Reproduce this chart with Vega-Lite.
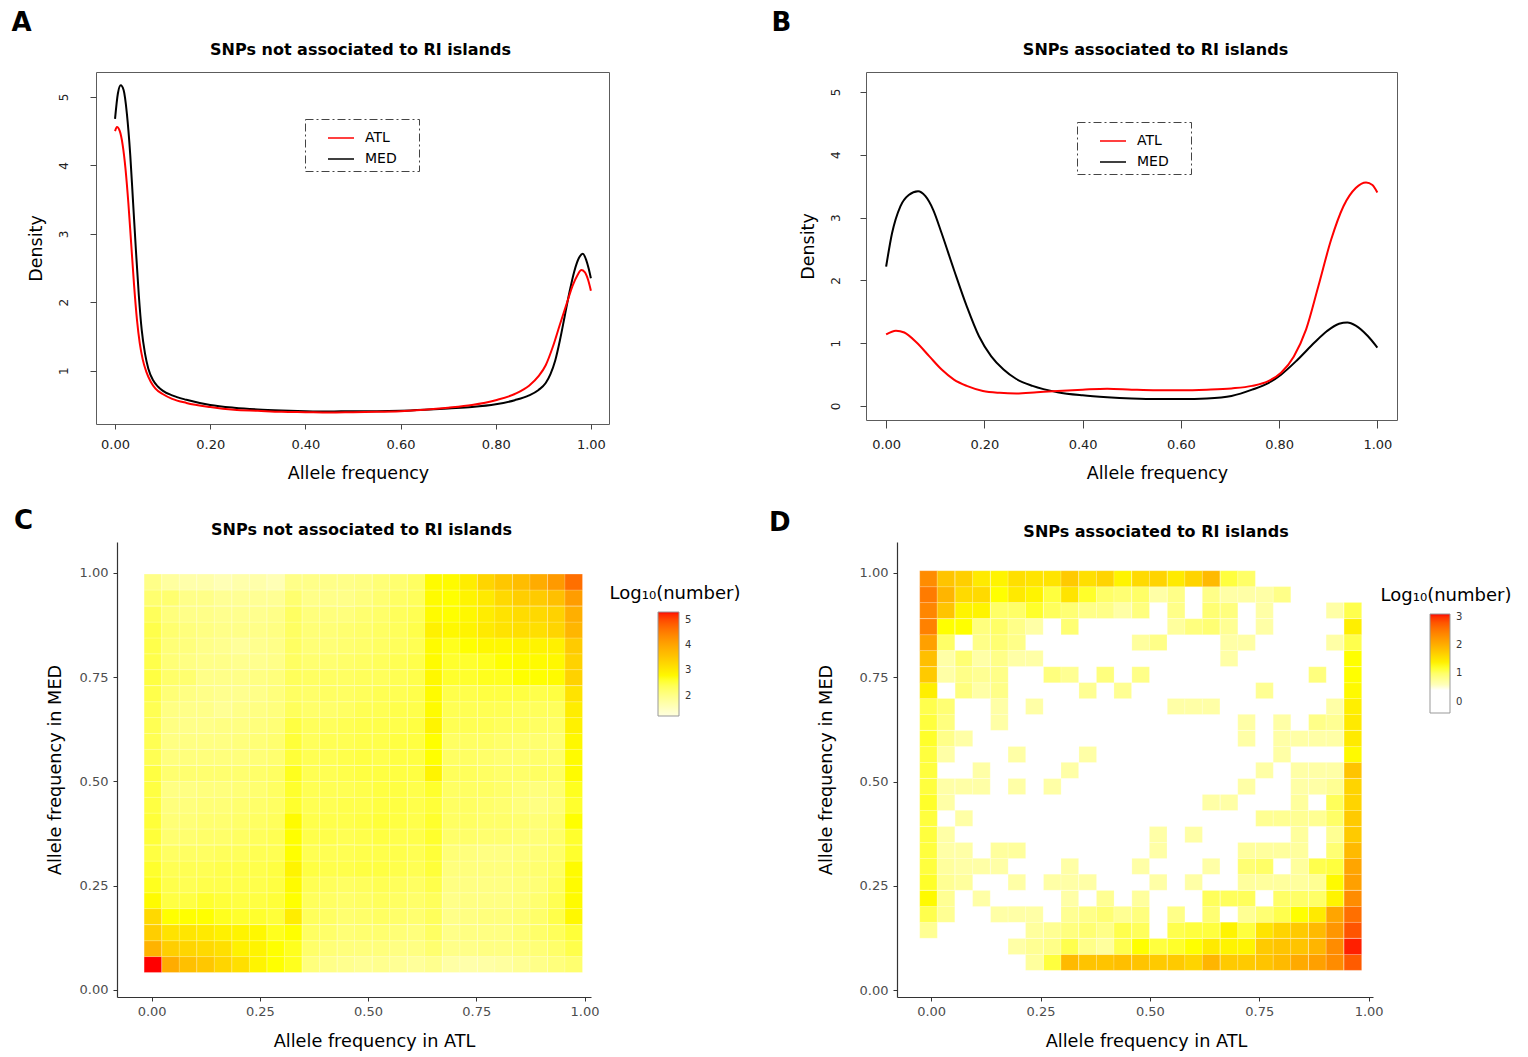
{
"$schema": "https://vega.github.io/schema/vega-lite/v6.json",
"background": "white",
"padding": {"left": 11, "top": 9, "right": 5, "bottom": 2},
"config": {
 "font": "DejaVu Sans",
 "view": {"stroke": null},
 "title": {"color": "#000000", "font": "DejaVu Sans"},
 "axis": {"grid": false, "titleFontWeight": "normal", "titleColor": "#000000", "labelFlush": false},
 "legend": {"strokeDash": [8, 3, 2, 3]}
},
"resolve": {"scale": {"color": "independent"}, "legend": {"color": "independent"}},
"spacing": 26,
"datasets": {
 "densA": [
  {"pop":"MED","x":0.000,"y":4.68},{"pop":"MED","x":0.006,"y":5.05},{"pop":"MED","x":0.012,"y":5.17},{"pop":"MED","x":0.018,"y":5.10},{"pop":"MED","x":0.025,"y":4.75},{"pop":"MED","x":0.032,"y":4.15},{"pop":"MED","x":0.038,"y":3.45},{"pop":"MED","x":0.044,"y":2.75},{"pop":"MED","x":0.050,"y":2.10},{"pop":"MED","x":0.056,"y":1.60},{"pop":"MED","x":0.063,"y":1.25},{"pop":"MED","x":0.070,"y":1.03},{"pop":"MED","x":0.080,"y":0.86},{"pop":"MED","x":0.090,"y":0.77},{"pop":"MED","x":0.100,"y":0.71},{"pop":"MED","x":0.120,"y":0.64},{"pop":"MED","x":0.150,"y":0.575},{"pop":"MED","x":0.200,"y":0.50},{"pop":"MED","x":0.250,"y":0.46},{"pop":"MED","x":0.300,"y":0.435},{"pop":"MED","x":0.350,"y":0.42},{"pop":"MED","x":0.400,"y":0.41},{"pop":"MED","x":0.450,"y":0.405},{"pop":"MED","x":0.500,"y":0.41},{"pop":"MED","x":0.550,"y":0.41},{"pop":"MED","x":0.600,"y":0.415},{"pop":"MED","x":0.650,"y":0.43},{"pop":"MED","x":0.700,"y":0.45},{"pop":"MED","x":0.750,"y":0.47},{"pop":"MED","x":0.800,"y":0.51},{"pop":"MED","x":0.840,"y":0.57},{"pop":"MED","x":0.870,"y":0.64},{"pop":"MED","x":0.890,"y":0.72},{"pop":"MED","x":0.905,"y":0.82},{"pop":"MED","x":0.915,"y":0.95},{"pop":"MED","x":0.925,"y":1.15},{"pop":"MED","x":0.935,"y":1.45},{"pop":"MED","x":0.945,"y":1.80},{"pop":"MED","x":0.955,"y":2.15},{"pop":"MED","x":0.965,"y":2.45},{"pop":"MED","x":0.975,"y":2.65},{"pop":"MED","x":0.983,"y":2.71},{"pop":"MED","x":0.990,"y":2.62},{"pop":"MED","x":0.995,"y":2.50},{"pop":"MED","x":1.000,"y":2.35},
  {"pop":"ATL","x":0.000,"y":4.50},{"pop":"ATL","x":0.004,"y":4.56},{"pop":"ATL","x":0.010,"y":4.50},{"pop":"ATL","x":0.016,"y":4.30},{"pop":"ATL","x":0.022,"y":3.95},{"pop":"ATL","x":0.028,"y":3.45},{"pop":"ATL","x":0.034,"y":2.85},{"pop":"ATL","x":0.040,"y":2.25},{"pop":"ATL","x":0.046,"y":1.75},{"pop":"ATL","x":0.052,"y":1.40},{"pop":"ATL","x":0.058,"y":1.17},{"pop":"ATL","x":0.066,"y":0.98},{"pop":"ATL","x":0.075,"y":0.84},{"pop":"ATL","x":0.085,"y":0.74},{"pop":"ATL","x":0.100,"y":0.66},{"pop":"ATL","x":0.120,"y":0.59},{"pop":"ATL","x":0.150,"y":0.53},{"pop":"ATL","x":0.200,"y":0.47},{"pop":"ATL","x":0.250,"y":0.43},{"pop":"ATL","x":0.300,"y":0.415},{"pop":"ATL","x":0.350,"y":0.40},{"pop":"ATL","x":0.400,"y":0.395},{"pop":"ATL","x":0.450,"y":0.39},{"pop":"ATL","x":0.500,"y":0.395},{"pop":"ATL","x":0.550,"y":0.40},{"pop":"ATL","x":0.600,"y":0.41},{"pop":"ATL","x":0.650,"y":0.43},{"pop":"ATL","x":0.700,"y":0.46},{"pop":"ATL","x":0.750,"y":0.50},{"pop":"ATL","x":0.800,"y":0.57},{"pop":"ATL","x":0.840,"y":0.66},{"pop":"ATL","x":0.870,"y":0.78},{"pop":"ATL","x":0.890,"y":0.92},{"pop":"ATL","x":0.905,"y":1.08},{"pop":"ATL","x":0.920,"y":1.35},{"pop":"ATL","x":0.935,"y":1.68},{"pop":"ATL","x":0.950,"y":2.00},{"pop":"ATL","x":0.962,"y":2.25},{"pop":"ATL","x":0.972,"y":2.40},{"pop":"ATL","x":0.980,"y":2.47},{"pop":"ATL","x":0.987,"y":2.44},{"pop":"ATL","x":0.994,"y":2.33},{"pop":"ATL","x":1.000,"y":2.17}
 ],
 "densB": [
  {"pop":"MED","x":0.000,"y":2.22},{"pop":"MED","x":0.012,"y":2.75},{"pop":"MED","x":0.029,"y":3.18},{"pop":"MED","x":0.046,"y":3.36},{"pop":"MED","x":0.065,"y":3.42},{"pop":"MED","x":0.080,"y":3.34},{"pop":"MED","x":0.096,"y":3.12},{"pop":"MED","x":0.113,"y":2.75},{"pop":"MED","x":0.138,"y":2.17},{"pop":"MED","x":0.164,"y":1.59},{"pop":"MED","x":0.189,"y":1.11},{"pop":"MED","x":0.214,"y":0.79},{"pop":"MED","x":0.239,"y":0.58},{"pop":"MED","x":0.265,"y":0.43},{"pop":"MED","x":0.298,"y":0.32},{"pop":"MED","x":0.349,"y":0.22},{"pop":"MED","x":0.400,"y":0.17},{"pop":"MED","x":0.450,"y":0.14},{"pop":"MED","x":0.500,"y":0.12},{"pop":"MED","x":0.551,"y":0.11},{"pop":"MED","x":0.602,"y":0.11},{"pop":"MED","x":0.653,"y":0.12},{"pop":"MED","x":0.703,"y":0.16},{"pop":"MED","x":0.745,"y":0.26},{"pop":"MED","x":0.779,"y":0.37},{"pop":"MED","x":0.804,"y":0.50},{"pop":"MED","x":0.838,"y":0.74},{"pop":"MED","x":0.872,"y":1.01},{"pop":"MED","x":0.897,"y":1.19},{"pop":"MED","x":0.922,"y":1.31},{"pop":"MED","x":0.939,"y":1.33},{"pop":"MED","x":0.956,"y":1.28},{"pop":"MED","x":0.981,"y":1.11},{"pop":"MED","x":1.000,"y":0.93},
  {"pop":"ATL","x":0.000,"y":1.14},{"pop":"ATL","x":0.020,"y":1.20},{"pop":"ATL","x":0.037,"y":1.17},{"pop":"ATL","x":0.062,"y":1.01},{"pop":"ATL","x":0.088,"y":0.79},{"pop":"ATL","x":0.113,"y":0.58},{"pop":"ATL","x":0.138,"y":0.42},{"pop":"ATL","x":0.164,"y":0.32},{"pop":"ATL","x":0.197,"y":0.24},{"pop":"ATL","x":0.231,"y":0.21},{"pop":"ATL","x":0.265,"y":0.20},{"pop":"ATL","x":0.307,"y":0.22},{"pop":"ATL","x":0.349,"y":0.24},{"pop":"ATL","x":0.400,"y":0.26},{"pop":"ATL","x":0.450,"y":0.275},{"pop":"ATL","x":0.500,"y":0.26},{"pop":"ATL","x":0.551,"y":0.25},{"pop":"ATL","x":0.602,"y":0.25},{"pop":"ATL","x":0.653,"y":0.26},{"pop":"ATL","x":0.703,"y":0.28},{"pop":"ATL","x":0.745,"y":0.32},{"pop":"ATL","x":0.779,"y":0.40},{"pop":"ATL","x":0.804,"y":0.53},{"pop":"ATL","x":0.830,"y":0.79},{"pop":"ATL","x":0.855,"y":1.22},{"pop":"ATL","x":0.880,"y":1.91},{"pop":"ATL","x":0.906,"y":2.65},{"pop":"ATL","x":0.931,"y":3.18},{"pop":"ATL","x":0.956,"y":3.47},{"pop":"ATL","x":0.977,"y":3.56},{"pop":"ATL","x":0.990,"y":3.52},{"pop":"ATL","x":1.000,"y":3.40}
 ],
 "heatC": [
{"x":0.003,"y":0.061,"v":5.3},{"x":0.044,"y":0.061,"v":3.9},{"x":0.084,"y":0.061,"v":3.6},{"x":0.125,"y":0.061,"v":3.5},{"x":0.165,"y":0.061,"v":3.3},{"x":0.206,"y":0.061,"v":3.15},{"x":0.246,"y":0.061,"v":2.85},{"x":0.287,"y":0.061,"v":2.7},{"x":0.327,"y":0.061,"v":2.65},{"x":0.368,"y":0.061,"v":2.1},{"x":0.408,"y":0.061,"v":2.0},{"x":0.449,"y":0.061,"v":1.95},{"x":0.489,"y":0.061,"v":1.9},{"x":0.530,"y":0.061,"v":1.95},{"x":0.570,"y":0.061,"v":1.9},{"x":0.611,"y":0.061,"v":1.85},{"x":0.651,"y":0.061,"v":1.95},{"x":0.692,"y":0.061,"v":1.75},{"x":0.732,"y":0.061,"v":1.7},{"x":0.773,"y":0.061,"v":1.75},{"x":0.813,"y":0.061,"v":1.8},{"x":0.854,"y":0.061,"v":1.9},{"x":0.894,"y":0.061,"v":2.0},{"x":0.935,"y":0.061,"v":2.1},{"x":0.975,"y":0.061,"v":2.2},
{"x":0.003,"y":0.099,"v":3.8},{"x":0.044,"y":0.099,"v":3.4},{"x":0.084,"y":0.099,"v":3.3},{"x":0.125,"y":0.099,"v":3.25},{"x":0.165,"y":0.099,"v":3.15},{"x":0.206,"y":0.099,"v":2.9},{"x":0.246,"y":0.099,"v":2.85},{"x":0.287,"y":0.099,"v":2.7},{"x":0.327,"y":0.099,"v":2.65},{"x":0.368,"y":0.099,"v":2.25},{"x":0.408,"y":0.099,"v":2.15},{"x":0.449,"y":0.099,"v":2.1},{"x":0.489,"y":0.099,"v":2.1},{"x":0.530,"y":0.099,"v":2.1},{"x":0.570,"y":0.099,"v":2.05},{"x":0.611,"y":0.099,"v":2.05},{"x":0.651,"y":0.099,"v":2.2},{"x":0.692,"y":0.099,"v":2.0},{"x":0.732,"y":0.099,"v":2.0},{"x":0.773,"y":0.099,"v":2.05},{"x":0.813,"y":0.099,"v":2.05},{"x":0.854,"y":0.099,"v":2.1},{"x":0.894,"y":0.099,"v":2.15},{"x":0.935,"y":0.099,"v":2.25},{"x":0.975,"y":0.099,"v":2.45},
{"x":0.003,"y":0.137,"v":3.4},{"x":0.044,"y":0.137,"v":3.1},{"x":0.084,"y":0.137,"v":3.05},{"x":0.125,"y":0.137,"v":3.0},{"x":0.165,"y":0.137,"v":2.9},{"x":0.206,"y":0.137,"v":2.85},{"x":0.246,"y":0.137,"v":2.8},{"x":0.287,"y":0.137,"v":2.65},{"x":0.327,"y":0.137,"v":2.7},{"x":0.368,"y":0.137,"v":2.3},{"x":0.408,"y":0.137,"v":2.25},{"x":0.449,"y":0.137,"v":2.15},{"x":0.489,"y":0.137,"v":2.2},{"x":0.530,"y":0.137,"v":2.2},{"x":0.570,"y":0.137,"v":2.15},{"x":0.611,"y":0.137,"v":2.1},{"x":0.651,"y":0.137,"v":2.3},{"x":0.692,"y":0.137,"v":2.0},{"x":0.732,"y":0.137,"v":2.05},{"x":0.773,"y":0.137,"v":2.05},{"x":0.813,"y":0.137,"v":2.05},{"x":0.854,"y":0.137,"v":2.15},{"x":0.894,"y":0.137,"v":2.25},{"x":0.935,"y":0.137,"v":2.35},{"x":0.975,"y":0.137,"v":2.55},
{"x":0.003,"y":0.176,"v":3.25},{"x":0.044,"y":0.176,"v":2.7},{"x":0.084,"y":0.176,"v":2.7},{"x":0.125,"y":0.176,"v":2.7},{"x":0.165,"y":0.176,"v":2.65},{"x":0.206,"y":0.176,"v":2.6},{"x":0.246,"y":0.176,"v":2.6},{"x":0.287,"y":0.176,"v":2.55},{"x":0.327,"y":0.176,"v":2.95},{"x":0.368,"y":0.176,"v":2.35},{"x":0.408,"y":0.176,"v":2.3},{"x":0.449,"y":0.176,"v":2.2},{"x":0.489,"y":0.176,"v":2.25},{"x":0.530,"y":0.176,"v":2.3},{"x":0.570,"y":0.176,"v":2.25},{"x":0.611,"y":0.176,"v":2.2},{"x":0.651,"y":0.176,"v":2.35},{"x":0.692,"y":0.176,"v":2.0},{"x":0.732,"y":0.176,"v":2.05},{"x":0.773,"y":0.176,"v":2.1},{"x":0.813,"y":0.176,"v":2.1},{"x":0.854,"y":0.176,"v":2.15},{"x":0.894,"y":0.176,"v":2.25},{"x":0.935,"y":0.176,"v":2.45},{"x":0.975,"y":0.176,"v":2.8},
{"x":0.003,"y":0.214,"v":2.75},{"x":0.044,"y":0.214,"v":2.5},{"x":0.084,"y":0.214,"v":2.5},{"x":0.125,"y":0.214,"v":2.6},{"x":0.165,"y":0.214,"v":2.55},{"x":0.206,"y":0.214,"v":2.5},{"x":0.246,"y":0.214,"v":2.5},{"x":0.287,"y":0.214,"v":2.55},{"x":0.327,"y":0.214,"v":2.7},{"x":0.368,"y":0.214,"v":2.35},{"x":0.408,"y":0.214,"v":2.3},{"x":0.449,"y":0.214,"v":2.25},{"x":0.489,"y":0.214,"v":2.3},{"x":0.530,"y":0.214,"v":2.35},{"x":0.570,"y":0.214,"v":2.3},{"x":0.611,"y":0.214,"v":2.25},{"x":0.651,"y":0.214,"v":2.35},{"x":0.692,"y":0.214,"v":2.0},{"x":0.732,"y":0.214,"v":2.05},{"x":0.773,"y":0.214,"v":2.05},{"x":0.813,"y":0.214,"v":2.05},{"x":0.854,"y":0.214,"v":2.1},{"x":0.894,"y":0.214,"v":2.2},{"x":0.935,"y":0.214,"v":2.4},{"x":0.975,"y":0.214,"v":2.75},
{"x":0.003,"y":0.252,"v":2.65},{"x":0.044,"y":0.252,"v":2.45},{"x":0.084,"y":0.252,"v":2.4},{"x":0.125,"y":0.252,"v":2.45},{"x":0.165,"y":0.252,"v":2.45},{"x":0.206,"y":0.252,"v":2.45},{"x":0.246,"y":0.252,"v":2.45},{"x":0.287,"y":0.252,"v":2.5},{"x":0.327,"y":0.252,"v":2.75},{"x":0.368,"y":0.252,"v":2.4},{"x":0.408,"y":0.252,"v":2.35},{"x":0.449,"y":0.252,"v":2.3},{"x":0.489,"y":0.252,"v":2.35},{"x":0.530,"y":0.252,"v":2.4},{"x":0.570,"y":0.252,"v":2.35},{"x":0.611,"y":0.252,"v":2.3},{"x":0.651,"y":0.252,"v":2.45},{"x":0.692,"y":0.252,"v":2.05},{"x":0.732,"y":0.252,"v":2.05},{"x":0.773,"y":0.252,"v":2.05},{"x":0.813,"y":0.252,"v":2.05},{"x":0.854,"y":0.252,"v":2.1},{"x":0.894,"y":0.252,"v":2.15},{"x":0.935,"y":0.252,"v":2.35},{"x":0.975,"y":0.252,"v":2.75},
{"x":0.003,"y":0.290,"v":2.6},{"x":0.044,"y":0.290,"v":2.4},{"x":0.084,"y":0.290,"v":2.4},{"x":0.125,"y":0.290,"v":2.4},{"x":0.165,"y":0.290,"v":2.45},{"x":0.206,"y":0.290,"v":2.45},{"x":0.246,"y":0.290,"v":2.45},{"x":0.287,"y":0.290,"v":2.5},{"x":0.327,"y":0.290,"v":2.85},{"x":0.368,"y":0.290,"v":2.5},{"x":0.408,"y":0.290,"v":2.45},{"x":0.449,"y":0.290,"v":2.45},{"x":0.489,"y":0.290,"v":2.5},{"x":0.530,"y":0.290,"v":2.5},{"x":0.570,"y":0.290,"v":2.45},{"x":0.611,"y":0.290,"v":2.4},{"x":0.651,"y":0.290,"v":2.55},{"x":0.692,"y":0.290,"v":2.1},{"x":0.732,"y":0.290,"v":2.1},{"x":0.773,"y":0.290,"v":2.1},{"x":0.813,"y":0.290,"v":2.1},{"x":0.854,"y":0.290,"v":2.15},{"x":0.894,"y":0.290,"v":2.2},{"x":0.935,"y":0.290,"v":2.3},{"x":0.975,"y":0.290,"v":2.75},
{"x":0.003,"y":0.328,"v":2.5},{"x":0.044,"y":0.328,"v":2.3},{"x":0.084,"y":0.328,"v":2.3},{"x":0.125,"y":0.328,"v":2.3},{"x":0.165,"y":0.328,"v":2.35},{"x":0.206,"y":0.328,"v":2.35},{"x":0.246,"y":0.328,"v":2.4},{"x":0.287,"y":0.328,"v":2.4},{"x":0.327,"y":0.328,"v":2.7},{"x":0.368,"y":0.328,"v":2.4},{"x":0.408,"y":0.328,"v":2.4},{"x":0.449,"y":0.328,"v":2.4},{"x":0.489,"y":0.328,"v":2.45},{"x":0.530,"y":0.328,"v":2.45},{"x":0.570,"y":0.328,"v":2.45},{"x":0.611,"y":0.328,"v":2.4},{"x":0.651,"y":0.328,"v":2.55},{"x":0.692,"y":0.328,"v":2.15},{"x":0.732,"y":0.328,"v":2.1},{"x":0.773,"y":0.328,"v":2.05},{"x":0.813,"y":0.328,"v":2.05},{"x":0.854,"y":0.328,"v":2.1},{"x":0.894,"y":0.328,"v":2.15},{"x":0.935,"y":0.328,"v":2.25},{"x":0.975,"y":0.328,"v":2.6},
{"x":0.003,"y":0.367,"v":2.55},{"x":0.044,"y":0.367,"v":2.2},{"x":0.084,"y":0.367,"v":2.2},{"x":0.125,"y":0.367,"v":2.25},{"x":0.165,"y":0.367,"v":2.25},{"x":0.206,"y":0.367,"v":2.3},{"x":0.246,"y":0.367,"v":2.35},{"x":0.287,"y":0.367,"v":2.4},{"x":0.327,"y":0.367,"v":2.7},{"x":0.368,"y":0.367,"v":2.45},{"x":0.408,"y":0.367,"v":2.45},{"x":0.449,"y":0.367,"v":2.4},{"x":0.489,"y":0.367,"v":2.45},{"x":0.530,"y":0.367,"v":2.5},{"x":0.570,"y":0.367,"v":2.45},{"x":0.611,"y":0.367,"v":2.45},{"x":0.651,"y":0.367,"v":2.6},{"x":0.692,"y":0.367,"v":2.25},{"x":0.732,"y":0.367,"v":2.25},{"x":0.773,"y":0.367,"v":2.2},{"x":0.813,"y":0.367,"v":2.2},{"x":0.854,"y":0.367,"v":2.15},{"x":0.894,"y":0.367,"v":2.15},{"x":0.935,"y":0.367,"v":2.25},{"x":0.975,"y":0.367,"v":2.6},
{"x":0.003,"y":0.405,"v":2.55},{"x":0.044,"y":0.405,"v":2.15},{"x":0.084,"y":0.405,"v":2.15},{"x":0.125,"y":0.405,"v":2.2},{"x":0.165,"y":0.405,"v":2.2},{"x":0.206,"y":0.405,"v":2.25},{"x":0.246,"y":0.405,"v":2.3},{"x":0.287,"y":0.405,"v":2.35},{"x":0.327,"y":0.405,"v":2.75},{"x":0.368,"y":0.405,"v":2.45},{"x":0.408,"y":0.405,"v":2.45},{"x":0.449,"y":0.405,"v":2.45},{"x":0.489,"y":0.405,"v":2.5},{"x":0.530,"y":0.405,"v":2.55},{"x":0.570,"y":0.405,"v":2.5},{"x":0.611,"y":0.405,"v":2.45},{"x":0.651,"y":0.405,"v":2.6},{"x":0.692,"y":0.405,"v":2.3},{"x":0.732,"y":0.405,"v":2.3},{"x":0.773,"y":0.405,"v":2.25},{"x":0.813,"y":0.405,"v":2.25},{"x":0.854,"y":0.405,"v":2.2},{"x":0.894,"y":0.405,"v":2.15},{"x":0.935,"y":0.405,"v":2.25},{"x":0.975,"y":0.405,"v":2.7},
{"x":0.003,"y":0.443,"v":2.5},{"x":0.044,"y":0.443,"v":2.1},{"x":0.084,"y":0.443,"v":2.1},{"x":0.125,"y":0.443,"v":2.15},{"x":0.165,"y":0.443,"v":2.15},{"x":0.206,"y":0.443,"v":2.2},{"x":0.246,"y":0.443,"v":2.25},{"x":0.287,"y":0.443,"v":2.3},{"x":0.327,"y":0.443,"v":2.6},{"x":0.368,"y":0.443,"v":2.4},{"x":0.408,"y":0.443,"v":2.4},{"x":0.449,"y":0.443,"v":2.45},{"x":0.489,"y":0.443,"v":2.45},{"x":0.530,"y":0.443,"v":2.5},{"x":0.570,"y":0.443,"v":2.5},{"x":0.611,"y":0.443,"v":2.45},{"x":0.651,"y":0.443,"v":2.55},{"x":0.692,"y":0.443,"v":2.3},{"x":0.732,"y":0.443,"v":2.3},{"x":0.773,"y":0.443,"v":2.25},{"x":0.813,"y":0.443,"v":2.2},{"x":0.854,"y":0.443,"v":2.1},{"x":0.894,"y":0.443,"v":2.05},{"x":0.935,"y":0.443,"v":2.15},{"x":0.975,"y":0.443,"v":2.6},
{"x":0.003,"y":0.481,"v":2.5},{"x":0.044,"y":0.481,"v":2.05},{"x":0.084,"y":0.481,"v":2.05},{"x":0.125,"y":0.481,"v":2.1},{"x":0.165,"y":0.481,"v":2.1},{"x":0.206,"y":0.481,"v":2.15},{"x":0.246,"y":0.481,"v":2.2},{"x":0.287,"y":0.481,"v":2.3},{"x":0.327,"y":0.481,"v":2.6},{"x":0.368,"y":0.481,"v":2.4},{"x":0.408,"y":0.481,"v":2.4},{"x":0.449,"y":0.481,"v":2.4},{"x":0.489,"y":0.481,"v":2.45},{"x":0.530,"y":0.481,"v":2.5},{"x":0.570,"y":0.481,"v":2.5},{"x":0.611,"y":0.481,"v":2.45},{"x":0.651,"y":0.481,"v":2.6},{"x":0.692,"y":0.481,"v":2.3},{"x":0.732,"y":0.481,"v":2.3},{"x":0.773,"y":0.481,"v":2.3},{"x":0.813,"y":0.481,"v":2.25},{"x":0.854,"y":0.481,"v":2.15},{"x":0.894,"y":0.481,"v":2.1},{"x":0.935,"y":0.481,"v":2.2},{"x":0.975,"y":0.481,"v":2.65},
{"x":0.003,"y":0.519,"v":2.5},{"x":0.044,"y":0.519,"v":2.2},{"x":0.084,"y":0.519,"v":2.2},{"x":0.125,"y":0.519,"v":2.2},{"x":0.165,"y":0.519,"v":2.2},{"x":0.206,"y":0.519,"v":2.2},{"x":0.246,"y":0.519,"v":2.25},{"x":0.287,"y":0.519,"v":2.3},{"x":0.327,"y":0.519,"v":2.65},{"x":0.368,"y":0.519,"v":2.4},{"x":0.408,"y":0.519,"v":2.4},{"x":0.449,"y":0.519,"v":2.45},{"x":0.489,"y":0.519,"v":2.5},{"x":0.530,"y":0.519,"v":2.5},{"x":0.570,"y":0.519,"v":2.5},{"x":0.611,"y":0.519,"v":2.5},{"x":0.651,"y":0.519,"v":2.85},{"x":0.692,"y":0.519,"v":2.35},{"x":0.732,"y":0.519,"v":2.35},{"x":0.773,"y":0.519,"v":2.3},{"x":0.813,"y":0.519,"v":2.25},{"x":0.854,"y":0.519,"v":2.25},{"x":0.894,"y":0.519,"v":2.3},{"x":0.935,"y":0.519,"v":2.3},{"x":0.975,"y":0.519,"v":2.75},
{"x":0.003,"y":0.558,"v":2.4},{"x":0.044,"y":0.558,"v":2.1},{"x":0.084,"y":0.558,"v":2.1},{"x":0.125,"y":0.558,"v":2.1},{"x":0.165,"y":0.558,"v":2.1},{"x":0.206,"y":0.558,"v":2.1},{"x":0.246,"y":0.558,"v":2.15},{"x":0.287,"y":0.558,"v":2.2},{"x":0.327,"y":0.558,"v":2.55},{"x":0.368,"y":0.558,"v":2.4},{"x":0.408,"y":0.558,"v":2.4},{"x":0.449,"y":0.558,"v":2.45},{"x":0.489,"y":0.558,"v":2.5},{"x":0.530,"y":0.558,"v":2.45},{"x":0.570,"y":0.558,"v":2.5},{"x":0.611,"y":0.558,"v":2.5},{"x":0.651,"y":0.558,"v":2.7},{"x":0.692,"y":0.558,"v":2.3},{"x":0.732,"y":0.558,"v":2.3},{"x":0.773,"y":0.558,"v":2.25},{"x":0.813,"y":0.558,"v":2.2},{"x":0.854,"y":0.558,"v":2.2},{"x":0.894,"y":0.558,"v":2.25},{"x":0.935,"y":0.558,"v":2.25},{"x":0.975,"y":0.558,"v":2.75},
{"x":0.003,"y":0.596,"v":2.4},{"x":0.044,"y":0.596,"v":2.05},{"x":0.084,"y":0.596,"v":2.05},{"x":0.125,"y":0.596,"v":2.05},{"x":0.165,"y":0.596,"v":2.05},{"x":0.206,"y":0.596,"v":2.1},{"x":0.246,"y":0.596,"v":2.15},{"x":0.287,"y":0.596,"v":2.2},{"x":0.327,"y":0.596,"v":2.55},{"x":0.368,"y":0.596,"v":2.35},{"x":0.408,"y":0.596,"v":2.4},{"x":0.449,"y":0.596,"v":2.4},{"x":0.489,"y":0.596,"v":2.45},{"x":0.530,"y":0.596,"v":2.45},{"x":0.570,"y":0.596,"v":2.5},{"x":0.611,"y":0.596,"v":2.5},{"x":0.651,"y":0.596,"v":2.7},{"x":0.692,"y":0.596,"v":2.3},{"x":0.732,"y":0.596,"v":2.3},{"x":0.773,"y":0.596,"v":2.3},{"x":0.813,"y":0.596,"v":2.25},{"x":0.854,"y":0.596,"v":2.2},{"x":0.894,"y":0.596,"v":2.2},{"x":0.935,"y":0.596,"v":2.2},{"x":0.975,"y":0.596,"v":2.8},
{"x":0.003,"y":0.634,"v":2.4},{"x":0.044,"y":0.634,"v":2.05},{"x":0.084,"y":0.634,"v":2.0},{"x":0.125,"y":0.634,"v":2.0},{"x":0.165,"y":0.634,"v":2.05},{"x":0.206,"y":0.634,"v":2.05},{"x":0.246,"y":0.634,"v":2.1},{"x":0.287,"y":0.634,"v":2.15},{"x":0.327,"y":0.634,"v":2.5},{"x":0.368,"y":0.634,"v":2.35},{"x":0.408,"y":0.634,"v":2.35},{"x":0.449,"y":0.634,"v":2.4},{"x":0.489,"y":0.634,"v":2.45},{"x":0.530,"y":0.634,"v":2.45},{"x":0.570,"y":0.634,"v":2.45},{"x":0.611,"y":0.634,"v":2.5},{"x":0.651,"y":0.634,"v":2.85},{"x":0.692,"y":0.634,"v":2.4},{"x":0.732,"y":0.634,"v":2.4},{"x":0.773,"y":0.634,"v":2.4},{"x":0.813,"y":0.634,"v":2.35},{"x":0.854,"y":0.634,"v":2.35},{"x":0.894,"y":0.634,"v":2.3},{"x":0.935,"y":0.634,"v":2.3},{"x":0.975,"y":0.634,"v":2.9},
{"x":0.003,"y":0.672,"v":2.4},{"x":0.044,"y":0.672,"v":2.05},{"x":0.084,"y":0.672,"v":2.0},{"x":0.125,"y":0.672,"v":2.0},{"x":0.165,"y":0.672,"v":1.9},{"x":0.206,"y":0.672,"v":2.0},{"x":0.246,"y":0.672,"v":2.05},{"x":0.287,"y":0.672,"v":2.1},{"x":0.327,"y":0.672,"v":2.35},{"x":0.368,"y":0.672,"v":2.25},{"x":0.408,"y":0.672,"v":2.25},{"x":0.449,"y":0.672,"v":2.3},{"x":0.489,"y":0.672,"v":2.4},{"x":0.530,"y":0.672,"v":2.4},{"x":0.570,"y":0.672,"v":2.45},{"x":0.611,"y":0.672,"v":2.45},{"x":0.651,"y":0.672,"v":2.75},{"x":0.692,"y":0.672,"v":2.4},{"x":0.732,"y":0.672,"v":2.4},{"x":0.773,"y":0.672,"v":2.4},{"x":0.813,"y":0.672,"v":2.4},{"x":0.854,"y":0.672,"v":2.35},{"x":0.894,"y":0.672,"v":2.35},{"x":0.935,"y":0.672,"v":2.35},{"x":0.975,"y":0.672,"v":2.95},
{"x":0.003,"y":0.710,"v":2.45},{"x":0.044,"y":0.710,"v":2.15},{"x":0.084,"y":0.710,"v":2.05},{"x":0.125,"y":0.710,"v":2.0},{"x":0.165,"y":0.710,"v":1.95},{"x":0.206,"y":0.710,"v":1.95},{"x":0.246,"y":0.710,"v":2.0},{"x":0.287,"y":0.710,"v":2.1},{"x":0.327,"y":0.710,"v":2.3},{"x":0.368,"y":0.710,"v":2.25},{"x":0.408,"y":0.710,"v":2.3},{"x":0.449,"y":0.710,"v":2.3},{"x":0.489,"y":0.710,"v":2.35},{"x":0.530,"y":0.710,"v":2.4},{"x":0.570,"y":0.710,"v":2.4},{"x":0.611,"y":0.710,"v":2.45},{"x":0.651,"y":0.710,"v":2.75},{"x":0.692,"y":0.710,"v":2.45},{"x":0.732,"y":0.710,"v":2.45},{"x":0.773,"y":0.710,"v":2.5},{"x":0.813,"y":0.710,"v":2.5},{"x":0.854,"y":0.710,"v":2.5},{"x":0.894,"y":0.710,"v":2.45},{"x":0.935,"y":0.710,"v":2.5},{"x":0.975,"y":0.710,"v":3.1},
{"x":0.003,"y":0.749,"v":2.5},{"x":0.044,"y":0.749,"v":2.25},{"x":0.084,"y":0.749,"v":2.2},{"x":0.125,"y":0.749,"v":2.0},{"x":0.165,"y":0.749,"v":2.0},{"x":0.206,"y":0.749,"v":2.0},{"x":0.246,"y":0.749,"v":2.05},{"x":0.287,"y":0.749,"v":2.1},{"x":0.327,"y":0.749,"v":2.35},{"x":0.368,"y":0.749,"v":2.3},{"x":0.408,"y":0.749,"v":2.3},{"x":0.449,"y":0.749,"v":2.3},{"x":0.489,"y":0.749,"v":2.35},{"x":0.530,"y":0.749,"v":2.35},{"x":0.570,"y":0.749,"v":2.4},{"x":0.611,"y":0.749,"v":2.45},{"x":0.651,"y":0.749,"v":2.8},{"x":0.692,"y":0.749,"v":2.6},{"x":0.732,"y":0.749,"v":2.6},{"x":0.773,"y":0.749,"v":2.65},{"x":0.813,"y":0.749,"v":2.65},{"x":0.854,"y":0.749,"v":2.7},{"x":0.894,"y":0.749,"v":2.7},{"x":0.935,"y":0.749,"v":2.75},{"x":0.975,"y":0.749,"v":3.35},
{"x":0.003,"y":0.787,"v":2.45},{"x":0.044,"y":0.787,"v":2.15},{"x":0.084,"y":0.787,"v":2.05},{"x":0.125,"y":0.787,"v":2.0},{"x":0.165,"y":0.787,"v":2.0},{"x":0.206,"y":0.787,"v":1.95},{"x":0.246,"y":0.787,"v":1.95},{"x":0.287,"y":0.787,"v":2.0},{"x":0.327,"y":0.787,"v":2.3},{"x":0.368,"y":0.787,"v":2.2},{"x":0.408,"y":0.787,"v":2.2},{"x":0.449,"y":0.787,"v":2.25},{"x":0.489,"y":0.787,"v":2.3},{"x":0.530,"y":0.787,"v":2.35},{"x":0.570,"y":0.787,"v":2.4},{"x":0.611,"y":0.787,"v":2.45},{"x":0.651,"y":0.787,"v":2.75},{"x":0.692,"y":0.787,"v":2.6},{"x":0.732,"y":0.787,"v":2.6},{"x":0.773,"y":0.787,"v":2.65},{"x":0.813,"y":0.787,"v":2.7},{"x":0.854,"y":0.787,"v":2.75},{"x":0.894,"y":0.787,"v":2.75},{"x":0.935,"y":0.787,"v":2.8},{"x":0.975,"y":0.787,"v":3.35},
{"x":0.003,"y":0.825,"v":2.45},{"x":0.044,"y":0.825,"v":2.15},{"x":0.084,"y":0.825,"v":2.1},{"x":0.125,"y":0.825,"v":2.0},{"x":0.165,"y":0.825,"v":1.95},{"x":0.206,"y":0.825,"v":1.85},{"x":0.246,"y":0.825,"v":1.95},{"x":0.287,"y":0.825,"v":2.0},{"x":0.327,"y":0.825,"v":2.3},{"x":0.368,"y":0.825,"v":2.15},{"x":0.408,"y":0.825,"v":2.15},{"x":0.449,"y":0.825,"v":2.2},{"x":0.489,"y":0.825,"v":2.25},{"x":0.530,"y":0.825,"v":2.3},{"x":0.570,"y":0.825,"v":2.35},{"x":0.611,"y":0.825,"v":2.4},{"x":0.651,"y":0.825,"v":2.75},{"x":0.692,"y":0.825,"v":2.65},{"x":0.732,"y":0.825,"v":2.7},{"x":0.773,"y":0.825,"v":2.8},{"x":0.813,"y":0.825,"v":2.8},{"x":0.854,"y":0.825,"v":2.85},{"x":0.894,"y":0.825,"v":2.85},{"x":0.935,"y":0.825,"v":2.9},{"x":0.975,"y":0.825,"v":3.45},
{"x":0.003,"y":0.863,"v":2.45},{"x":0.044,"y":0.863,"v":2.2},{"x":0.084,"y":0.863,"v":2.1},{"x":0.125,"y":0.863,"v":2.05},{"x":0.165,"y":0.863,"v":2.0},{"x":0.206,"y":0.863,"v":2.0},{"x":0.246,"y":0.863,"v":2.0},{"x":0.287,"y":0.863,"v":2.05},{"x":0.327,"y":0.863,"v":2.3},{"x":0.368,"y":0.863,"v":2.15},{"x":0.408,"y":0.863,"v":2.15},{"x":0.449,"y":0.863,"v":2.2},{"x":0.489,"y":0.863,"v":2.25},{"x":0.530,"y":0.863,"v":2.3},{"x":0.570,"y":0.863,"v":2.35},{"x":0.611,"y":0.863,"v":2.45},{"x":0.651,"y":0.863,"v":2.9},{"x":0.692,"y":0.863,"v":2.8},{"x":0.732,"y":0.863,"v":2.85},{"x":0.773,"y":0.863,"v":3.0},{"x":0.813,"y":0.863,"v":3.1},{"x":0.854,"y":0.863,"v":3.15},{"x":0.894,"y":0.863,"v":3.15},{"x":0.935,"y":0.863,"v":3.3},{"x":0.975,"y":0.863,"v":3.75},
{"x":0.003,"y":0.901,"v":2.35},{"x":0.044,"y":0.901,"v":2.1},{"x":0.084,"y":0.901,"v":2.0},{"x":0.125,"y":0.901,"v":2.0},{"x":0.165,"y":0.901,"v":1.95},{"x":0.206,"y":0.901,"v":1.95},{"x":0.246,"y":0.901,"v":1.95},{"x":0.287,"y":0.901,"v":2.0},{"x":0.327,"y":0.901,"v":2.3},{"x":0.368,"y":0.901,"v":2.1},{"x":0.408,"y":0.901,"v":2.1},{"x":0.449,"y":0.901,"v":2.1},{"x":0.489,"y":0.901,"v":2.2},{"x":0.530,"y":0.901,"v":2.25},{"x":0.570,"y":0.901,"v":2.35},{"x":0.611,"y":0.901,"v":2.4},{"x":0.651,"y":0.901,"v":2.75},{"x":0.692,"y":0.901,"v":2.7},{"x":0.732,"y":0.901,"v":2.8},{"x":0.773,"y":0.901,"v":2.95},{"x":0.813,"y":0.901,"v":3.1},{"x":0.854,"y":0.901,"v":3.2},{"x":0.894,"y":0.901,"v":3.25},{"x":0.935,"y":0.901,"v":3.35},{"x":0.975,"y":0.901,"v":3.85},
{"x":0.003,"y":0.940,"v":2.2},{"x":0.044,"y":0.940,"v":2.2},{"x":0.084,"y":0.940,"v":2.0},{"x":0.125,"y":0.940,"v":2.0},{"x":0.165,"y":0.940,"v":1.9},{"x":0.206,"y":0.940,"v":1.9},{"x":0.246,"y":0.940,"v":1.9},{"x":0.287,"y":0.940,"v":1.9},{"x":0.327,"y":0.940,"v":2.2},{"x":0.368,"y":0.940,"v":2.0},{"x":0.408,"y":0.940,"v":2.0},{"x":0.449,"y":0.940,"v":2.0},{"x":0.489,"y":0.940,"v":2.1},{"x":0.530,"y":0.940,"v":2.2},{"x":0.570,"y":0.940,"v":2.3},{"x":0.611,"y":0.940,"v":2.35},{"x":0.651,"y":0.940,"v":2.75},{"x":0.692,"y":0.940,"v":2.7},{"x":0.732,"y":0.940,"v":2.85},{"x":0.773,"y":0.940,"v":3.0},{"x":0.813,"y":0.940,"v":3.25},{"x":0.854,"y":0.940,"v":3.4},{"x":0.894,"y":0.940,"v":3.45},{"x":0.935,"y":0.940,"v":3.6},{"x":0.975,"y":0.940,"v":4.1},
{"x":0.003,"y":0.978,"v":2.0},{"x":0.044,"y":0.978,"v":1.8},{"x":0.084,"y":0.978,"v":1.7},{"x":0.125,"y":0.978,"v":1.7},{"x":0.165,"y":0.978,"v":1.6},{"x":0.206,"y":0.978,"v":1.7},{"x":0.246,"y":0.978,"v":1.7},{"x":0.287,"y":0.978,"v":1.6},{"x":0.327,"y":0.978,"v":2.0},{"x":0.368,"y":0.978,"v":2.0},{"x":0.408,"y":0.978,"v":2.0},{"x":0.449,"y":0.978,"v":2.0},{"x":0.489,"y":0.978,"v":2.05},{"x":0.530,"y":0.978,"v":2.15},{"x":0.570,"y":0.978,"v":2.2},{"x":0.611,"y":0.978,"v":2.3},{"x":0.651,"y":0.978,"v":2.75},{"x":0.692,"y":0.978,"v":2.75},{"x":0.732,"y":0.978,"v":2.95},{"x":0.773,"y":0.978,"v":3.3},{"x":0.813,"y":0.978,"v":3.5},{"x":0.854,"y":0.978,"v":3.65},{"x":0.894,"y":0.978,"v":3.9},{"x":0.935,"y":0.978,"v":4.15},{"x":0.975,"y":0.978,"v":4.65}
 ],
 "heatD": [
{"x":0.236,"y":0.067,"v":0.75},{"x":0.277,"y":0.067,"v":1.15},{"x":0.317,"y":0.067,"v":1.9},{"x":0.358,"y":0.067,"v":1.8},{"x":0.398,"y":0.067,"v":1.8},{"x":0.438,"y":0.067,"v":1.85},{"x":0.479,"y":0.067,"v":1.8},{"x":0.519,"y":0.067,"v":1.75},{"x":0.560,"y":0.067,"v":1.75},{"x":0.600,"y":0.067,"v":1.65},{"x":0.640,"y":0.067,"v":1.95},{"x":0.681,"y":0.067,"v":1.75},{"x":0.721,"y":0.067,"v":1.75},{"x":0.762,"y":0.067,"v":1.8},{"x":0.802,"y":0.067,"v":1.9},{"x":0.842,"y":0.067,"v":2.05},{"x":0.883,"y":0.067,"v":2.15},{"x":0.923,"y":0.067,"v":2.35},{"x":0.964,"y":0.067,"v":2.75},
{"x":0.196,"y":0.105,"v":0.7},{"x":0.236,"y":0.105,"v":0.8},{"x":0.277,"y":0.105,"v":0.85},{"x":0.317,"y":0.105,"v":1.1},{"x":0.358,"y":0.105,"v":0.85},{"x":0.398,"y":0.105,"v":0.75},{"x":0.438,"y":0.105,"v":1.1},{"x":0.479,"y":0.105,"v":1.25},{"x":0.519,"y":0.105,"v":1.15},{"x":0.560,"y":0.105,"v":1.2},{"x":0.600,"y":0.105,"v":1.25},{"x":0.640,"y":0.105,"v":1.45},{"x":0.681,"y":0.105,"v":1.35},{"x":0.721,"y":0.105,"v":1.35},{"x":0.762,"y":0.105,"v":1.75},{"x":0.802,"y":0.105,"v":1.8},{"x":0.842,"y":0.105,"v":1.8},{"x":0.883,"y":0.105,"v":1.95},{"x":0.923,"y":0.105,"v":2.35},{"x":0.964,"y":0.105,"v":3.05},
{"x":-0.006,"y":0.144,"v":0.8},{"x":0.236,"y":0.144,"v":0.75},{"x":0.277,"y":0.144,"v":0.8},{"x":0.317,"y":0.144,"v":0.9},{"x":0.358,"y":0.144,"v":0.95},{"x":0.398,"y":0.144,"v":0.85},{"x":0.438,"y":0.144,"v":1.1},{"x":0.479,"y":0.144,"v":1.05},{"x":0.560,"y":0.144,"v":1.1},{"x":0.600,"y":0.144,"v":1.15},{"x":0.640,"y":0.144,"v":1.15},{"x":0.681,"y":0.144,"v":1.35},{"x":0.721,"y":0.144,"v":1.15},{"x":0.762,"y":0.144,"v":1.5},{"x":0.802,"y":0.144,"v":1.65},{"x":0.842,"y":0.144,"v":1.75},{"x":0.883,"y":0.144,"v":1.9},{"x":0.923,"y":0.144,"v":2.25},{"x":0.964,"y":0.144,"v":2.8},
{"x":-0.006,"y":0.182,"v":1.1},{"x":0.034,"y":0.182,"v":0.8},{"x":0.156,"y":0.182,"v":0.7},{"x":0.196,"y":0.182,"v":0.7},{"x":0.236,"y":0.182,"v":0.7},{"x":0.317,"y":0.182,"v":0.8},{"x":0.358,"y":0.182,"v":0.85},{"x":0.398,"y":0.182,"v":0.95},{"x":0.438,"y":0.182,"v":0.8},{"x":0.479,"y":0.182,"v":0.9},{"x":0.560,"y":0.182,"v":0.85},{"x":0.640,"y":0.182,"v":0.95},{"x":0.721,"y":0.182,"v":0.8},{"x":0.762,"y":0.182,"v":0.95},{"x":0.802,"y":0.182,"v":1.1},{"x":0.842,"y":0.182,"v":1.25},{"x":0.883,"y":0.182,"v":1.45},{"x":0.923,"y":0.182,"v":2.1},{"x":0.964,"y":0.182,"v":2.6},
{"x":-0.006,"y":0.220,"v":1.3},{"x":0.034,"y":0.220,"v":0.8},{"x":0.115,"y":0.220,"v":0.7},{"x":0.317,"y":0.220,"v":0.7},{"x":0.398,"y":0.220,"v":0.8},{"x":0.479,"y":0.220,"v":0.75},{"x":0.640,"y":0.220,"v":1.05},{"x":0.681,"y":0.220,"v":1.05},{"x":0.721,"y":0.220,"v":1.05},{"x":0.802,"y":0.220,"v":1.0},{"x":0.842,"y":0.220,"v":1.0},{"x":0.883,"y":0.220,"v":1.0},{"x":0.923,"y":0.220,"v":1.35},{"x":0.964,"y":0.220,"v":2.35},
{"x":-0.006,"y":0.259,"v":1.2},{"x":0.034,"y":0.259,"v":0.8},{"x":0.075,"y":0.259,"v":0.75},{"x":0.196,"y":0.259,"v":0.7},{"x":0.277,"y":0.259,"v":0.7},{"x":0.317,"y":0.259,"v":0.7},{"x":0.358,"y":0.259,"v":0.7},{"x":0.519,"y":0.259,"v":0.7},{"x":0.600,"y":0.259,"v":0.7},{"x":0.721,"y":0.259,"v":0.75},{"x":0.762,"y":0.259,"v":0.75},{"x":0.802,"y":0.259,"v":0.75},{"x":0.842,"y":0.259,"v":0.75},{"x":0.883,"y":0.259,"v":0.8},{"x":0.923,"y":0.259,"v":1.3},{"x":0.964,"y":0.259,"v":2.15},
{"x":-0.006,"y":0.297,"v":1.15},{"x":0.034,"y":0.297,"v":0.75},{"x":0.075,"y":0.297,"v":0.7},{"x":0.115,"y":0.297,"v":0.7},{"x":0.156,"y":0.297,"v":0.7},{"x":0.317,"y":0.297,"v":0.7},{"x":0.479,"y":0.297,"v":0.7},{"x":0.640,"y":0.297,"v":0.7},{"x":0.721,"y":0.297,"v":0.95},{"x":0.762,"y":0.297,"v":1.0},{"x":0.842,"y":0.297,"v":0.75},{"x":0.883,"y":0.297,"v":1.1},{"x":0.923,"y":0.297,"v":1.15},{"x":0.964,"y":0.297,"v":2.1},
{"x":-0.006,"y":0.335,"v":1.15},{"x":0.034,"y":0.335,"v":0.7},{"x":0.075,"y":0.335,"v":0.7},{"x":0.156,"y":0.335,"v":0.75},{"x":0.196,"y":0.335,"v":0.75},{"x":0.519,"y":0.335,"v":0.7},{"x":0.721,"y":0.335,"v":0.75},{"x":0.762,"y":0.335,"v":0.75},{"x":0.802,"y":0.335,"v":0.75},{"x":0.842,"y":0.335,"v":0.75},{"x":0.923,"y":0.335,"v":0.95},{"x":0.964,"y":0.335,"v":1.9},
{"x":-0.006,"y":0.373,"v":1.15},{"x":0.034,"y":0.373,"v":0.7},{"x":0.519,"y":0.373,"v":0.7},{"x":0.600,"y":0.373,"v":0.7},{"x":0.842,"y":0.373,"v":0.75},{"x":0.923,"y":0.373,"v":0.8},{"x":0.964,"y":0.373,"v":1.75},
{"x":-0.006,"y":0.412,"v":1.15},{"x":0.075,"y":0.412,"v":0.7},{"x":0.762,"y":0.412,"v":0.8},{"x":0.802,"y":0.412,"v":0.8},{"x":0.842,"y":0.412,"v":0.8},{"x":0.883,"y":0.412,"v":0.8},{"x":0.923,"y":0.412,"v":1.0},{"x":0.964,"y":0.412,"v":1.75},
{"x":-0.006,"y":0.450,"v":1.2},{"x":0.034,"y":0.450,"v":0.7},{"x":0.640,"y":0.450,"v":0.7},{"x":0.681,"y":0.450,"v":0.7},{"x":0.842,"y":0.450,"v":0.75},{"x":0.923,"y":0.450,"v":1.05},{"x":0.964,"y":0.450,"v":1.65},
{"x":-0.006,"y":0.488,"v":1.15},{"x":0.034,"y":0.488,"v":0.7},{"x":0.075,"y":0.488,"v":0.7},{"x":0.115,"y":0.488,"v":0.7},{"x":0.196,"y":0.488,"v":0.7},{"x":0.277,"y":0.488,"v":0.7},{"x":0.721,"y":0.488,"v":0.7},{"x":0.842,"y":0.488,"v":0.7},{"x":0.883,"y":0.488,"v":0.7},{"x":0.923,"y":0.488,"v":0.8},{"x":0.964,"y":0.488,"v":1.65},
{"x":-0.006,"y":0.527,"v":1.15},{"x":0.115,"y":0.527,"v":0.7},{"x":0.317,"y":0.527,"v":0.7},{"x":0.762,"y":0.527,"v":0.7},{"x":0.842,"y":0.527,"v":0.7},{"x":0.883,"y":0.527,"v":0.7},{"x":0.923,"y":0.527,"v":0.7},{"x":0.964,"y":0.527,"v":1.8},
{"x":-0.006,"y":0.565,"v":1.15},{"x":0.034,"y":0.565,"v":0.7},{"x":0.196,"y":0.565,"v":0.7},{"x":0.358,"y":0.565,"v":0.7},{"x":0.802,"y":0.565,"v":0.7},{"x":0.964,"y":0.565,"v":1.3},
{"x":-0.006,"y":0.603,"v":1.2},{"x":0.034,"y":0.603,"v":0.85},{"x":0.075,"y":0.603,"v":0.7},{"x":0.721,"y":0.603,"v":0.7},{"x":0.802,"y":0.603,"v":0.7},{"x":0.842,"y":0.603,"v":0.7},{"x":0.883,"y":0.603,"v":0.7},{"x":0.923,"y":0.603,"v":0.7},{"x":0.964,"y":0.603,"v":1.45},
{"x":-0.006,"y":0.642,"v":1.15},{"x":0.034,"y":0.642,"v":0.9},{"x":0.156,"y":0.642,"v":0.7},{"x":0.721,"y":0.642,"v":0.7},{"x":0.802,"y":0.642,"v":0.7},{"x":0.883,"y":0.642,"v":0.85},{"x":0.923,"y":0.642,"v":0.8},{"x":0.964,"y":0.642,"v":1.45},
{"x":-0.006,"y":0.680,"v":1.1},{"x":0.034,"y":0.680,"v":0.95},{"x":0.156,"y":0.680,"v":0.7},{"x":0.236,"y":0.680,"v":0.7},{"x":0.560,"y":0.680,"v":0.7},{"x":0.600,"y":0.680,"v":0.7},{"x":0.640,"y":0.680,"v":0.7},{"x":0.923,"y":0.680,"v":0.7},{"x":0.964,"y":0.680,"v":1.4},
{"x":-0.006,"y":0.718,"v":1.4},{"x":0.075,"y":0.718,"v":0.9},{"x":0.115,"y":0.718,"v":0.7},{"x":0.156,"y":0.718,"v":0.85},{"x":0.358,"y":0.718,"v":0.8},{"x":0.438,"y":0.718,"v":0.8},{"x":0.762,"y":0.718,"v":0.8},{"x":0.964,"y":0.718,"v":1.3},
{"x":-0.006,"y":0.756,"v":1.75},{"x":0.034,"y":0.756,"v":0.7},{"x":0.075,"y":0.756,"v":0.85},{"x":0.115,"y":0.756,"v":0.8},{"x":0.156,"y":0.756,"v":0.85},{"x":0.277,"y":0.756,"v":0.9},{"x":0.317,"y":0.756,"v":0.8},{"x":0.398,"y":0.756,"v":0.9},{"x":0.479,"y":0.756,"v":0.85},{"x":0.883,"y":0.756,"v":0.9},{"x":0.964,"y":0.756,"v":1.25},
{"x":-0.006,"y":0.795,"v":1.85},{"x":0.034,"y":0.795,"v":0.7},{"x":0.075,"y":0.795,"v":0.95},{"x":0.115,"y":0.795,"v":0.7},{"x":0.156,"y":0.795,"v":0.85},{"x":0.196,"y":0.795,"v":0.7},{"x":0.236,"y":0.795,"v":0.7},{"x":0.681,"y":0.795,"v":0.7},{"x":0.964,"y":0.795,"v":1.25},
{"x":-0.006,"y":0.833,"v":2.15},{"x":0.034,"y":0.833,"v":1.0},{"x":0.115,"y":0.833,"v":0.85},{"x":0.156,"y":0.833,"v":0.95},{"x":0.196,"y":0.833,"v":0.85},{"x":0.479,"y":0.833,"v":0.75},{"x":0.519,"y":0.833,"v":0.85},{"x":0.681,"y":0.833,"v":0.7},{"x":0.721,"y":0.833,"v":0.7},{"x":0.923,"y":0.833,"v":0.7},{"x":0.964,"y":0.833,"v":1.1},
{"x":-0.006,"y":0.871,"v":2.45},{"x":0.034,"y":0.871,"v":1.25},{"x":0.075,"y":0.871,"v":1.25},{"x":0.115,"y":0.871,"v":0.9},{"x":0.156,"y":0.871,"v":1.0},{"x":0.196,"y":0.871,"v":0.85},{"x":0.236,"y":0.871,"v":0.7},{"x":0.317,"y":0.871,"v":0.95},{"x":0.560,"y":0.871,"v":0.75},{"x":0.600,"y":0.871,"v":0.9},{"x":0.640,"y":0.871,"v":0.95},{"x":0.681,"y":0.871,"v":0.8},{"x":0.762,"y":0.871,"v":0.7},{"x":0.964,"y":0.871,"v":1.4},
{"x":-0.006,"y":0.910,"v":2.4},{"x":0.034,"y":0.910,"v":1.8},{"x":0.075,"y":0.910,"v":1.35},{"x":0.115,"y":0.910,"v":1.35},{"x":0.156,"y":0.910,"v":1.0},{"x":0.196,"y":0.910,"v":1.0},{"x":0.236,"y":0.910,"v":1.2},{"x":0.277,"y":0.910,"v":1.05},{"x":0.317,"y":0.910,"v":0.95},{"x":0.358,"y":0.910,"v":0.85},{"x":0.398,"y":0.910,"v":0.85},{"x":0.438,"y":0.910,"v":0.7},{"x":0.479,"y":0.910,"v":0.9},{"x":0.560,"y":0.910,"v":0.85},{"x":0.640,"y":0.910,"v":0.95},{"x":0.681,"y":0.910,"v":0.9},{"x":0.762,"y":0.910,"v":0.7},{"x":0.923,"y":0.910,"v":0.7},{"x":0.964,"y":0.910,"v":1.1},
{"x":-0.006,"y":0.948,"v":2.5},{"x":0.034,"y":0.948,"v":1.95},{"x":0.075,"y":0.948,"v":1.6},{"x":0.115,"y":0.948,"v":1.6},{"x":0.156,"y":0.948,"v":1.25},{"x":0.196,"y":0.948,"v":1.45},{"x":0.236,"y":0.948,"v":1.35},{"x":0.277,"y":0.948,"v":1.15},{"x":0.317,"y":0.948,"v":1.5},{"x":0.358,"y":0.948,"v":1.2},{"x":0.398,"y":0.948,"v":1.0},{"x":0.438,"y":0.948,"v":0.95},{"x":0.479,"y":0.948,"v":1.0},{"x":0.519,"y":0.948,"v":0.7},{"x":0.560,"y":0.948,"v":0.85},{"x":0.640,"y":0.948,"v":0.85},{"x":0.681,"y":0.948,"v":0.7},{"x":0.721,"y":0.948,"v":0.7},{"x":0.762,"y":0.948,"v":0.7},{"x":0.802,"y":0.948,"v":0.85},
{"x":-0.006,"y":0.986,"v":2.35},{"x":0.034,"y":0.986,"v":1.8},{"x":0.075,"y":0.986,"v":1.7},{"x":0.115,"y":0.986,"v":1.45},{"x":0.156,"y":0.986,"v":1.35},{"x":0.196,"y":0.986,"v":1.55},{"x":0.236,"y":0.986,"v":1.5},{"x":0.277,"y":0.986,"v":1.5},{"x":0.317,"y":0.986,"v":1.75},{"x":0.358,"y":0.986,"v":1.55},{"x":0.398,"y":0.986,"v":1.65},{"x":0.438,"y":0.986,"v":1.35},{"x":0.479,"y":0.986,"v":1.6},{"x":0.519,"y":0.986,"v":1.65},{"x":0.560,"y":0.986,"v":1.45},{"x":0.600,"y":0.986,"v":1.65},{"x":0.640,"y":0.986,"v":1.9},{"x":0.681,"y":0.986,"v":1.15},{"x":0.721,"y":0.986,"v":1.0}
 ]
},
"vconcat": [
 {"resolve": {"scale": {"color": "independent"}, "legend": {"color": "independent"}},
  "spacing": 161,
  "hconcat": [
  {"title": {"text": "A", "anchor": "start", "fontSize": 26, "fontWeight": "bold", "dx": -15, "offset": 6},
   "vconcat": [{
    "title": {"text": "SNPs not associated to RI islands", "fontSize": 16, "fontWeight": "bold", "anchor": "middle", "offset": 14, "dx": 8},
    "width": 513, "height": 352,
    "view": {"stroke": "#5c5c5c", "strokeWidth": 1},
    "data": {"name": "densA"},
    "encoding": {
     "x": {"field": "x", "type": "quantitative", "scale": {"domain": [-0.04, 1.038], "nice": false, "zero": false},
      "axis": {"title": "Allele frequency", "titleX": 262, "values": [0, 0.2, 0.4, 0.6, 0.8, 1], "format": ".2f", "domain": false, "tickSize": 5, "tickColor": "#444", "labelFontSize": 13, "labelColor": "#222", "labelPadding": 9, "titleFontSize": 17.5, "titlePadding": 13}},
     "y": {"field": "y", "type": "quantitative", "scale": {"domain": [0.222, 5.364], "nice": false, "zero": false},
      "axis": {"title": "Density", "values": [1, 2, 3, 4, 5], "domain": false, "tickSize": 6, "tickColor": "#444", "labelAngle": -90, "labelAlign": "center", "labelBaseline": "bottom", "labelPadding": 20, "labelFontSize": 12, "labelColor": "#222", "titleFontSize": 17.5, "titlePadding": 12}},
     "color": {"field": "pop", "type": "nominal", "scale": {"domain": ["ATL", "MED"], "range": ["#ff0000", "#000000"]},
      "legend": {"title": "\u00a0", "titleOrient": "right", "titleFontSize": 8, "titlePadding": 17, "orient": "none", "legendX": 209, "legendY": 47, "symbolType": "stroke", "symbolSize": 676, "symbolStrokeWidth": 1.5, "symbolOffset": 17, "labelOffset": 10, "labelFontSize": 14, "labelColor": "#000", "padding": 5, "rowPadding": -4, "strokeColor": "#444", "fillColor": "white"}}
    },
    "layer": [
     {"transform": [{"filter": "datum.pop == 'MED'"}], "mark": {"type": "line", "strokeWidth": 2, "interpolate": "monotone"}},
     {"transform": [{"filter": "datum.pop == 'ATL'"}], "mark": {"type": "line", "strokeWidth": 2, "interpolate": "monotone"}}
    ]
   }]
  },
  {"title": {"text": "B", "anchor": "start", "fontSize": 26, "fontWeight": "bold", "dx": -27, "offset": 6},
   "vconcat": [{
    "title": {"text": "SNPs associated to RI islands", "fontSize": 16, "fontWeight": "bold", "anchor": "middle", "offset": 14, "dx": 24},
    "width": 531, "height": 348,
    "view": {"stroke": "#5c5c5c", "strokeWidth": 1},
    "data": {"name": "densB"},
    "encoding": {
     "x": {"field": "x", "type": "quantitative", "scale": {"domain": [-0.041, 1.04], "nice": false, "zero": false},
      "axis": {"title": "Allele frequency", "titleX": 291, "values": [0, 0.2, 0.4, 0.6, 0.8, 1], "format": ".2f", "domain": false, "tickSize": 8, "tickColor": "#444", "labelFontSize": 13, "labelColor": "#222", "labelPadding": 10, "titleFontSize": 17.5, "titlePadding": 13}},
     "y": {"field": "y", "type": "quantitative", "scale": {"domain": [-0.223, 5.318], "nice": false, "zero": false},
      "axis": {"title": "Density", "values": [0, 1, 2, 3, 4, 5], "domain": false, "tickSize": 6, "tickColor": "#444", "labelAngle": -90, "labelAlign": "center", "labelBaseline": "bottom", "labelPadding": 18, "labelFontSize": 12, "labelColor": "#222", "titleFontSize": 17.5, "titlePadding": 12}},
     "color": {"field": "pop", "type": "nominal", "scale": {"domain": ["ATL", "MED"], "range": ["#ff0000", "#000000"]},
      "legend": {"title": "\u00a0", "titleOrient": "right", "titleFontSize": 8, "titlePadding": 17, "orient": "none", "legendX": 211, "legendY": 50, "symbolType": "stroke", "symbolSize": 676, "symbolStrokeWidth": 1.5, "symbolOffset": 17, "labelOffset": 10, "labelFontSize": 14, "labelColor": "#000", "padding": 5, "rowPadding": -4, "strokeColor": "#444", "fillColor": "white"}}
    },
    "layer": [
     {"transform": [{"filter": "datum.pop == 'MED'"}], "mark": {"type": "line", "strokeWidth": 2, "interpolate": "monotone"}},
     {"transform": [{"filter": "datum.pop == 'ATL'"}], "mark": {"type": "line", "strokeWidth": 2, "interpolate": "monotone"}}
    ]
   }]
  }
 ]},
 {"resolve": {"scale": {"color": "independent"}, "legend": {"color": "independent"}},
  "spacing": 28,
  "hconcat": [
  {"title": {"text": "C", "anchor": "start", "fontSize": 26, "fontWeight": "bold", "dx": -16, "offset": 4, "dy": 16},
   "vconcat": [{
    "title": {"text": "SNPs not associated to RI islands", "fontSize": 16, "fontWeight": "bold", "anchor": "middle", "offset": 4, "dx": 18},
    "width": 495, "height": 455,
    "data": {"name": "heatC"},
    "mark": {"type": "rect", "width": 17.6, "height": 16, "stroke": "#ffffff", "strokeWidth": 0.4, "strokeOpacity": 0.5},
    "encoding": {
     "x": {"field": "x", "type": "quantitative", "scale": {"domain": [-0.08, 1.015], "range": [21, 495], "nice": false, "zero": false},
      "axis": {"title": "Allele frequency in ATL", "titleX": 278, "values": [0, 0.25, 0.5, 0.75, 1], "format": ".2f", "domain": true, "domainColor": "#333", "domainWidth": 1.2, "tickSize": 4, "tickColor": "#333", "labelFontSize": 13, "labelColor": "#4d4d4d", "labelPadding": 4, "titleFontSize": 17.7, "titlePadding": 14}},
     "y": {"field": "y", "type": "quantitative", "scale": {"domain": [-0.017, 1.074], "nice": false, "zero": false},
      "axis": {"title": ["\u00a0", "Allele frequency in MED"], "titleLineHeight": 16, "offset": -21, "values": [0, 0.25, 0.5, 0.75, 1], "format": ".2f", "domain": true, "domainColor": "#333", "domainWidth": 1.2, "tickSize": 4, "tickColor": "#333", "labelFontSize": 13, "labelColor": "#4d4d4d", "labelPadding": 5, "titleFontSize": 17.7, "titlePadding": 15}},
     "color": {"field": "v", "type": "quantitative", "scale": {"domain": [1.2, 2.7, 4.0, 5.3], "range": ["#ffffe0", "#ffff00", "#ffa500", "#ff0000"]},
      "legend": {"title": "Log₁₀(number)", "orient": "none", "legendX": 514, "legendY": 43, "direction": "vertical", "gradientLength": 104, "gradientThickness": 21, "values": [2, 3, 4, 5], "labelFontSize": 10, "labelColor": "#333", "labelOffset": 6, "titleFontSize": 18, "titleFontWeight": "normal", "titleColor": "#000", "titlePadding": 9, "titleAnchor": "middle", "gradientStrokeColor": "#999", "gradientStrokeWidth": 1}}
    }
   }]
  },
  {"title": {"text": "D", "anchor": "start", "fontSize": 26, "fontWeight": "bold", "dx": -48, "offset": 4, "dy": 16},
   "vconcat": [{
    "title": {"text": "SNPs associated to RI islands", "fontSize": 16, "fontWeight": "bold", "anchor": "middle", "offset": 2, "dx": 21},
    "width": 476, "height": 455,
    "data": {"name": "heatD"},
    "mark": {"type": "rect", "width": 17.6, "height": 16, "stroke": "#ffffff", "strokeWidth": 0.4, "strokeOpacity": 0.5},
    "encoding": {
     "x": {"field": "x", "type": "quantitative", "scale": {"domain": [-0.078, 1.01], "nice": false, "zero": false},
      "axis": {"title": "Allele frequency in ATL", "titleX": 249, "values": [0, 0.25, 0.5, 0.75, 1], "format": ".2f", "domain": true, "domainColor": "#333", "domainWidth": 1.2, "tickSize": 4, "tickColor": "#333", "labelFontSize": 13, "labelColor": "#4d4d4d", "labelPadding": 4, "titleFontSize": 17.7, "titlePadding": 14}},
     "y": {"field": "y", "type": "quantitative", "scale": {"domain": [-0.016, 1.074], "nice": false, "zero": false},
      "axis": {"title": "Allele frequency in MED", "values": [0, 0.25, 0.5, 0.75, 1], "format": ".2f", "domain": true, "domainColor": "#333", "domainWidth": 1.2, "tickSize": 4, "tickColor": "#333", "labelFontSize": 13, "labelColor": "#4d4d4d", "labelPadding": 5, "titleFontSize": 17.7, "titlePadding": 24}},
     "color": {"field": "v", "type": "quantitative", "scale": {"domain": [-0.4, 0.47, 0.48, 1.25, 2.1, 3.1], "range": ["#ffffff", "#ffffff", "#ffffd0", "#ffff00", "#ffa500", "#ff0000"]},
      "legend": {"title": "Log₁₀(number)", "orient": "none", "legendX": 484, "legendY": 45, "direction": "vertical", "gradientLength": 99, "gradientThickness": 20, "values": [0, 1, 2, 3], "labelFontSize": 10, "labelColor": "#333", "labelOffset": 6, "titleFontSize": 18, "titleFontWeight": "normal", "titleColor": "#000", "titlePadding": 9, "titleAnchor": "middle", "gradientStrokeColor": "#999", "gradientStrokeWidth": 1}}
    }
   }]
  }
 ]}
]
}
